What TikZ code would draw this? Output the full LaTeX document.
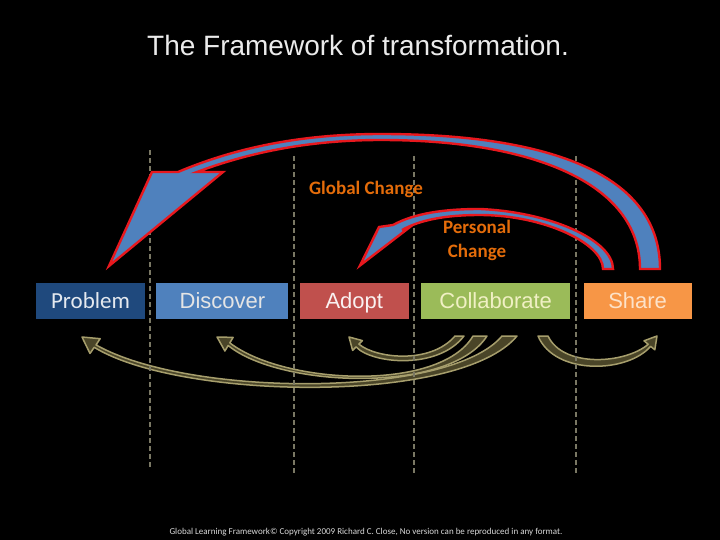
\documentclass[tikz,border=0pt]{standalone}
\usepackage{fontspec}
\setmainfont{Liberation Sans}
\newfontfamily\calibri{Carlito}
\definecolor{stagenavy}{RGB}{31,73,125}
\definecolor{stageblue}{RGB}{79,129,189}
\definecolor{stagered}{RGB}{192,80,77}
\definecolor{stagegreen}{RGB}{155,187,89}
\definecolor{stageorange}{RGB}{247,150,70}
\definecolor{changered}{RGB}{232,24,30}
\definecolor{labelorange}{RGB}{228,108,10}
\definecolor{khaki}{RGB}{166,158,108}
\definecolor{darkolive}{RGB}{74,69,40}
\definecolor{divgray}{RGB}{122,120,100}
\definecolor{paleyellow}{RGB}{240,240,196}
\definecolor{palepeach}{RGB}{253,226,200}
\usetikzlibrary{calc}
\usetikzlibrary{positioning}
\tikzset{
  stage/.style={minimum height=36pt, inner sep=0pt, text height=17pt, text depth=3pt,
    font=\fontsize{22}{26}\selectfont},
  divider/.style={divgray, line width=2.4pt, dash pattern=on 5pt off 3pt},
  change/.style={fill=stageblue, draw=changered, line width=2.4pt},
  loop/.style={fill=darkolive, draw=khaki, line width=1.5pt, line join=round},
}

\begin{document}
\begin{tikzpicture}[x=1pt, y=-1pt]
  \fill [black] (0,0) rectangle (720,540);

  \node [font=\fontsize{28}{34}\selectfont, text=white!92!black] (title) at (358,45) {The Framework of transformation.};

  % the five stages
  \node [stage, fill=stagenavy, minimum width=109pt, text=white!88!stagenavy,
    font=\calibri\fontsize{23}{26}\selectfont] (problem) at (90.5,301) {Problem};
  \node [stage, fill=stageblue, minimum width=132pt, text=white!90!black, right=11pt of problem] (discover) {Discover};
  \node [stage, fill=stagered, minimum width=109pt, text=white!92!stagered, right=11pt of discover] (adopt) {Adopt};
  \node [stage, fill=stagegreen, minimum width=149pt, text=paleyellow, right=12pt of adopt] (collab) {Collaborate};
  \node [stage, fill=stageorange, minimum width=108pt, text=palepeach, right=13pt of collab] (share) {Share};

  % loops back from collaborate / share
  \draw [loop] (96,344.9) .. controls (190,398) and (450,398) .. (502,336)
    -- (517,336) .. controls (460,405) and (180,400) .. (94.2,347.3)
    -- (90,353.5) -- (82,337) -- (100.2,338.7) -- cycle;
  \draw [loop] (229.8,342.9) .. controls (285,385) and (440,392) .. (473,336)
    -- (487,336) .. controls (450,394) and (280,388) .. (228.2,345.5)
    -- (224.9,351) -- (217,337) -- (233.1,337.4) -- cycle;
  \draw [loop] (358.9,344.1) .. controls (375,358) and (430,365) .. (455,336)
    -- (464,336) .. controls (438,370) and (372,364) .. (356.1,346.9)
    -- (352.6,350.4) -- (349,337) -- (362.4,340.6) -- cycle;
  \draw [loop] (648.2,344.3) .. controls (625,364) and (563,368) .. (548,336)
    -- (538,336) .. controls (555,376) and (628,373) .. (650.6,346.3)
    -- (654.8,349.8) -- (657,336) -- (644,340.8) -- cycle;

  \foreach \x/\ya/\yb in {150/150/468, 294/156/475, 414/156/475, 576/156/475} {
    \draw [divider] (\x,\ya) -- (\x,\yb);
  }

  % global and personal change
  \draw [change] (109,266) -- (152,172) -- (178,172)
    .. controls (235,148) and (300,134) .. (381,134)
    .. controls (540,134) and (660,170) .. (660,269)
    -- (640,269) .. controls (640,182) and (530,140) .. (381,140)
    .. controls (305,140) and (245,154) .. (197,172)
    -- (223,172) -- cycle;
  \draw [change] (360,265.5) -- (379,227) -- (393,225)
    .. controls (415,213) and (445,209) .. (480,209)
    .. controls (550,212) and (613,240) .. (613,269)
    -- (603,269) .. controls (603,243) and (543,215) .. (480,215)
    .. controls (445,215) and (420,220) .. (402,230)
    -- (410,227) -- cycle;

  \node [font=\calibri\bfseries\fontsize{19}{24}\selectfont, text=labelorange] (global) at (366,189) {Global Change};
  \node [font=\calibri\bfseries\fontsize{19}{24}\selectfont, text=labelorange, align=center] (personal) at (477,240) {Personal\\Change};

  \node [font=\calibri\fontsize{9}{11}\selectfont, text=white!85!black] (footer) at (366,532)
    {Global Learning Framework© Copyright 2009 Richard C. Close, No version can be reproduced in any format.};
\end{tikzpicture}
\end{document}
